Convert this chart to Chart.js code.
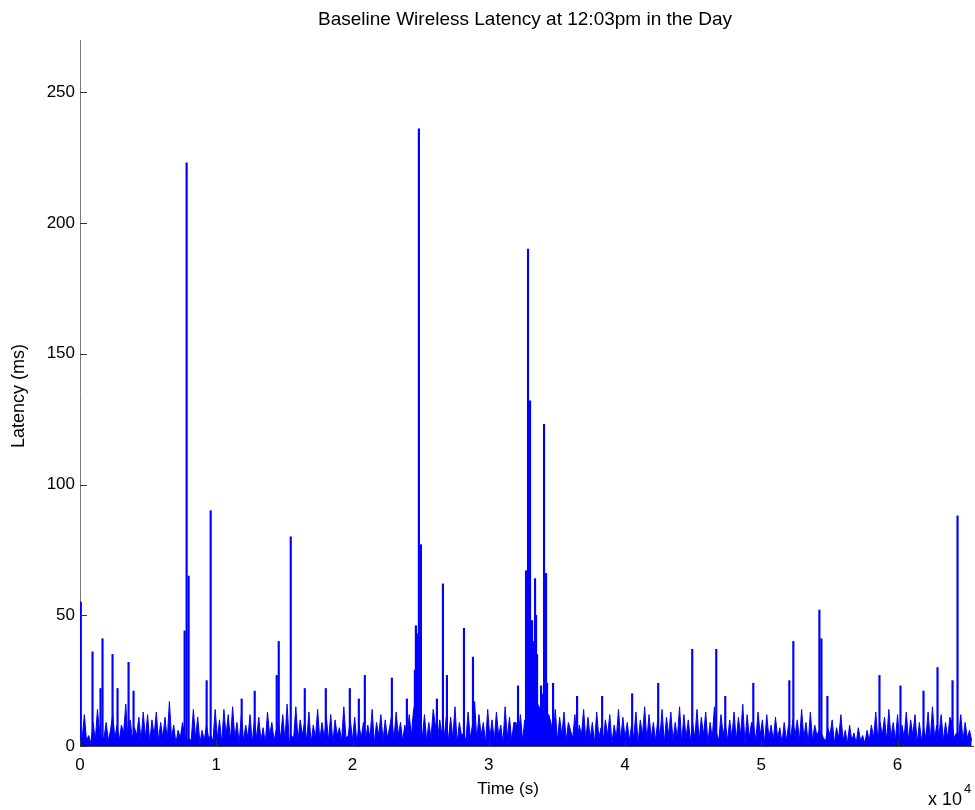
<!DOCTYPE html>
<html lang="en">
<head>
<meta charset="UTF-8">
<title>Baseline Wireless Latency</title>
<script src="https://cdn.jsdelivr.net/npm/chart.js"></script>
<style>
  body { margin: 0; background: #fff; }
  #latencyChart { display: block; }
</style>
</head>
<body>
<canvas id="latencyChart" width="975" height="810"></canvas>
<script>
const chartTitle = 'Baseline Wireless Latency at 12:03pm in the Day';
const xAxisTitle = 'Time (s)';
const yAxisTitle = 'Latency (ms)';

// background latency, one sample every 160 s (ms)
const sampleStep = 160;
const baseLatencyMs = [
  3, 3, 12, 2, 4, 1, 9, 2, 14, 5,
  4, 3, 9, 2, 6, 12, 3, 8, 2, 8,
  5, 16, 2, 10, 3, 7, 4, 11, 2, 13,
  3, 12, 1, 10, 4, 13, 2, 9, 3, 11,
  2, 17, 3, 8, 1, 6, 3, 9, 4, 2,
  3, 2, 14, 3, 11, 1, 6, 2, 8, 3,
  4, 2, 14, 3, 10, 1, 14, 4, 12, 2,
  15, 3, 9, 1, 12, 2, 8, 3, 12, 1,
  10, 3, 11, 2, 7, 1, 13, 4, 9, 2,
  6, 9, 3, 12, 2, 16, 1, 4, 3, 15,
  2, 10, 4, 9, 2, 13, 1, 8, 3, 14,
  2, 9, 3, 11, 2, 12, 1, 10, 4, 7,
  2, 15, 3, 4, 10, 2, 11, 1, 8, 3,
  9, 2, 8, 3, 14, 1, 9, 4, 12, 2,
  10, 3, 7, 12, 2, 13, 4, 9, 2, 8,
  3, 12, 4, 14, 17, 3, 4, 3, 12, 2,
  9, 3, 14, 8, 2, 10, 4, 3, 11, 2,
  11, 3, 15, 1, 9, 4, 5, 2, 13, 3,
  8, 17, 2, 12, 4, 9, 1, 14, 3, 10,
  2, 13, 4, 8, 1, 15, 3, 11, 2, 9,
  9, 3, 12, 2, 10, 4, 16, 12, 20, 18,
  16, 14, 20, 6, 12, 12, 9, 3, 14, 2,
  11, 4, 13, 2, 9, 6, 3, 12, 1, 8,
  4, 14, 2, 11, 3, 9, 1, 13, 3, 7,
  2, 10, 4, 12, 1, 8, 3, 14, 2, 11,
  3, 9, 2, 8, 3, 13, 1, 10, 4, 15,
  2, 12, 3, 9, 2, 10, 3, 14, 1, 11,
  4, 13, 2, 9, 3, 15, 1, 12, 3, 10,
  2, 9, 3, 14, 2, 11, 4, 13, 1, 9,
  3, 15, 5, 2, 12, 4, 9, 2, 10, 3,
  13, 2, 11, 4, 16, 1, 12, 3, 9, 8,
  2, 13, 4, 10, 1, 12, 3, 8, 2, 11,
  3, 7, 1, 9, 2, 8, 3, 10, 4, 10,
  2, 14, 3, 9, 1, 13, 2, 8, 4, 6,
  5, 3, 2, 7, 4, 10, 1, 7, 3, 12,
  2, 6, 1, 8, 2, 5, 1, 7, 2, 4,
  1, 6, 2, 8, 3, 13, 2, 9, 4, 11,
  2, 14, 3, 9, 2, 12, 1, 8, 3, 13,
  2, 10, 4, 12, 1, 9, 2, 7, 3, 13,
  2, 15, 3, 8, 4, 12, 2, 9, 3, 11,
  9, 3, 5, 4, 12, 2, 9, 3, 6, 2
];

// isolated latency spikes: time (s) and peak (ms)
const spikeTimes = [
  60, 918, 1506, 1653, 2388, 2755, 3564, 3931,
  7678, 7825, 7972, 9295, 9589, 11866, 12822, 14438, 14585, 15467,
  16496, 18039, 19802, 20463, 20904, 22888, 23990,
  24577, 24651, 24724, 24871, 25018, 26194, 26635, 26929, 28178, 28839,
  32145, 32733, 32880, 33027, 33174, 33248, 33395, 33468, 33542, 33836,
  34056, 34203, 34277, 34718, 36481, 38318, 40522, 42432,
  44930, 46694, 47355, 49412, 52057, 52351, 54262, 54409, 54850,
  58671, 60214, 61904, 62932, 64034, 64401
];
const spikeMs = [
  55, 36, 22, 41, 35, 22, 32, 21,
  44, 223, 65, 25, 90, 18, 21, 27, 40, 80,
  22, 22, 22, 18, 27, 26, 18,
  29, 46, 43, 236, 77, 18, 62, 27, 45, 34,
  23, 67, 190, 132, 48, 40, 64, 50, 35, 23,
  123, 66, 24, 24, 19, 19, 20, 24,
  37, 37, 19, 24, 25, 40, 52, 41, 19,
  27, 23, 21, 30, 25, 88
];

const xTickValues = [0, 10000, 20000, 30000, 40000, 50000, 60000];
const xTickLabels = ['0', '1', '2', '3', '4', '5', '6'];
const yTickValues = [0, 50, 100, 150, 200, 250];
const timeMax = 65536;
const latencyMax = 270;

const FONT = '"Liberation Sans", Arial, sans-serif';

const basePoints = baseLatencyMs.map((v, i) => ({ x: i * sampleStep, y: v }));
const spikePoints = spikeTimes.map((t, i) => ({ x: t, y: spikeMs[i] }));

// MATLAB style: ticks inside the axes, title and labels placed by hand
const matlabDecor = {
  id: 'matlabDecor',
  afterDraw(chart) {
    const { ctx, chartArea: a, scales: { x, y } } = chart;
    ctx.save();
    ctx.strokeStyle = '#333';
    ctx.lineWidth = 1;
    ctx.beginPath();
    x.ticks.forEach(t => {
      const px = Math.round(x.getPixelForValue(t.value)) + 0.5;
      ctx.moveTo(px, a.bottom);
      ctx.lineTo(px, a.bottom - 6);
    });
    y.ticks.forEach(t => {
      const py = Math.round(y.getPixelForValue(t.value)) + 0.5;
      ctx.moveTo(a.left, py);
      ctx.lineTo(a.left + 7, py);
    });
    ctx.stroke();

    ctx.fillStyle = '#000';
    ctx.textAlign = 'center';
    ctx.textBaseline = 'middle';
    ctx.font = '19px ' + FONT;
    ctx.fillText(chartTitle, 525, 20);
    ctx.font = '17px ' + FONT;
    ctx.fillText(xAxisTitle, 508, 789);

    ctx.save();
    ctx.translate(19, 396);
    ctx.rotate(-Math.PI / 2);
    ctx.font = '18px ' + FONT;
    ctx.fillText(yAxisTitle, 0, 0);
    ctx.restore();

    ctx.textAlign = 'left';
    ctx.font = '18px ' + FONT;
    ctx.fillText('x 10', 928, 800);
    ctx.font = '13px ' + FONT;
    ctx.fillText('4', 964, 789);
    ctx.restore();
  }
};

new Chart(document.getElementById('latencyChart'), {
  type: 'line',
  data: {
    datasets: [{
      type: 'bar',
      data: spikePoints,
      backgroundColor: '#0000ff',
      borderWidth: 0,
      barThickness: 1.5,
      grouped: false
    }, {
      data: basePoints,
      borderColor: '#0000ff',
      backgroundColor: '#0000ff',
      borderWidth: 1,
      pointRadius: 0,
      tension: 0,
      fill: 'origin'
    }]
  },
  options: {
    responsive: false,
    animation: false,
    devicePixelRatio: 1,
    layout: { padding: { left: 0, top: 40, right: 2, bottom: 0 } },
    plugins: { legend: { display: false }, tooltip: { enabled: false } },
    scales: {
      x: {
        type: 'linear',
        offset: false,
        min: 0,
        max: timeMax,
        afterBuildTicks: s => { s.ticks = xTickValues.map(v => ({ value: v })); },
        afterFit: s => { s.height = 64; },
        ticks: {
          autoSkip: false,
          maxRotation: 0,
          padding: 9,
          color: '#000',
          font: { family: FONT, size: 17 },
          callback: (v) => xTickLabels[xTickValues.indexOf(v)]
        },
        grid: { drawOnChartArea: false, drawTicks: false, offset: false },
        border: { color: '#444', width: 1 }
      },
      y: {
        min: 0,
        max: latencyMax,
        afterBuildTicks: s => { s.ticks = yTickValues.map(v => ({ value: v })); },
        afterFit: s => { s.width = 80; },
        ticks: {
          padding: 5,
          color: '#000',
          font: { family: FONT, size: 17 }
        },
        grid: { drawOnChartArea: false, drawTicks: false },
        border: { color: '#777', width: 1 }
      }
    }
  },
  plugins: [matlabDecor]
});
</script>
</body>
</html>
